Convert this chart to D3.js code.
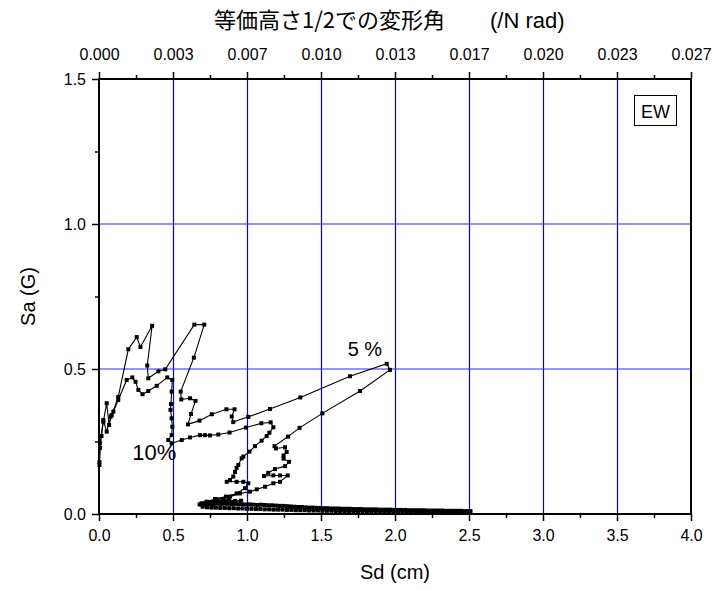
<!DOCTYPE html>
<html><head><meta charset="utf-8">
<script src="https://cdn.jsdelivr.net/npm/d3@7"></script>
<style>
body{margin:0;background:#fff;}
text{font-family:"Liberation Sans",Arial,"Noto Sans CJK JP",sans-serif;fill:#000;}
</style></head>
<body><svg id="c" width="716" height="590"></svg>
<script>
// ---- data: [Sd (cm), Sa (G)] ----
const curve5 = [
 [0.003,0.179],[0.007,0.228],[0.017,0.269],[0.029,0.318],[0.052,0.382],[0.068,0.307],[0.086,0.341],[0.130,0.404],
 [0.198,0.568],[0.255,0.610],[0.280,0.576],[0.359,0.649],[0.326,0.512],[0.333,0.468],[0.401,0.492],[0.448,0.499],
 [0.644,0.653],[0.711,0.653],[0.641,0.539],[0.552,0.422],[0.556,0.395],[0.615,0.399],[0.652,0.390],[0.622,0.345],
 [0.601,0.309],[0.679,0.322],[0.762,0.344],[0.861,0.361],[0.916,0.361],[0.897,0.336],[0.907,0.317],[1.009,0.335],
 [1.155,0.362],[1.360,0.402],[1.696,0.475],[1.944,0.518],[1.966,0.497],[1.764,0.424],[1.509,0.347],[1.355,0.297],
 [1.277,0.267],[1.186,0.234],[1.196,0.226],[1.257,0.230],[1.268,0.214],[1.247,0.202],[1.247,0.191],[1.284,0.180],
 [1.257,0.165],[1.189,0.155],[1.144,0.142],[1.115,0.131],[1.178,0.133],[1.223,0.133],[1.275,0.133],[1.223,0.111],
 [1.178,0.106],[1.122,0.094],[1.066,0.085],[1.020,0.077],[0.953,0.071],[0.885,0.060],[0.795,0.051],[0.728,0.042],
 [0.694,0.037],[0.740,0.041],[0.790,0.045],[0.840,0.048],[0.880,0.049],[0.820,0.044],[0.760,0.040],[0.710,0.036],
 [0.680,0.033],[0.720,0.037],[0.745,0.036],[0.770,0.037],[0.795,0.036],[0.820,0.035],[0.845,0.036],[0.870,0.035],
 [0.895,0.034],[0.920,0.035],[0.945,0.034],[0.970,0.033],[0.995,0.033],[1.020,0.033],[1.045,0.032],[1.070,0.031],
 [1.095,0.032],[1.120,0.031],[1.145,0.030],[1.170,0.030],[1.195,0.029],[1.220,0.028],[1.245,0.028],[1.270,0.027],
 [1.295,0.026],[1.320,0.025],[1.345,0.024],[1.370,0.024],[1.395,0.023],[1.420,0.022],[1.445,0.022],[1.470,0.021],
 [1.495,0.021],[1.520,0.020],[1.545,0.020],[1.570,0.019],[1.595,0.019],[1.620,0.019],[1.645,0.018],[1.670,0.018],
 [1.695,0.018],[1.720,0.017],[1.745,0.017],[1.770,0.017],[1.795,0.016],[1.820,0.016],[1.845,0.016],[1.870,0.016],
 [1.895,0.015],[1.920,0.015],[1.945,0.015],[1.970,0.015],[1.995,0.014],[2.020,0.014],[2.045,0.014],[2.070,0.014],
 [2.095,0.013],[2.120,0.013],[2.145,0.013],[2.170,0.013],[2.195,0.013],[2.220,0.012],[2.245,0.012],[2.270,0.012],
 [2.295,0.012],[2.320,0.012],[2.345,0.011],[2.370,0.011],[2.395,0.011],[2.420,0.011],[2.445,0.011],[2.470,0.010],
 [2.495,0.010],[2.510,0.010]];
const curve10 = [
 [0.003,0.169],[0.007,0.244],[0.029,0.324],[0.052,0.284],[0.079,0.336],[0.097,0.353],[0.130,0.393],[0.187,0.462],
 [0.225,0.471],[0.247,0.456],[0.266,0.428],[0.294,0.413],[0.333,0.424],[0.390,0.442],[0.461,0.471],[0.495,0.462],
 [0.491,0.422],[0.486,0.379],[0.483,0.359],[0.491,0.330],[0.495,0.301],[0.491,0.272],[0.468,0.255],[0.491,0.244],
 [0.559,0.255],[0.615,0.264],[0.682,0.272],[0.716,0.272],[0.750,0.271],[0.806,0.274],[0.882,0.281],[0.993,0.298],
 [1.097,0.313],[1.160,0.316],[1.178,0.299],[1.151,0.280],[1.133,0.269],[1.099,0.253],[1.054,0.234],[1.016,0.215],
 [0.975,0.198],[0.964,0.192],[0.941,0.169],[0.930,0.159],[0.919,0.145],[0.907,0.129],[0.885,0.117],[0.863,0.111],
 [0.930,0.111],[0.975,0.111],[1.009,0.106],[0.986,0.089],[0.930,0.071],[0.858,0.060],[0.784,0.052],[0.728,0.042],
 [0.689,0.033],[0.740,0.036],[0.800,0.040],[0.860,0.043],[0.920,0.045],[0.960,0.046],[0.900,0.041],[0.830,0.036],
 [0.770,0.031],[0.720,0.027],[0.700,0.025],[0.730,0.023],[0.760,0.022],[0.790,0.022],[0.820,0.021],[0.850,0.021],
 [0.880,0.020],[0.910,0.020],[0.940,0.019],[0.970,0.019],[1.000,0.018],[1.030,0.018],[1.060,0.017],[1.090,0.017],
 [1.120,0.016],[1.150,0.016],[1.180,0.015],[1.210,0.015],[1.240,0.015],[1.270,0.014],[1.300,0.014],[1.330,0.013],
 [1.360,0.013],[1.390,0.013],[1.420,0.012],[1.450,0.012],[1.480,0.012],[1.510,0.011],[1.540,0.011],[1.570,0.011],
 [1.600,0.010],[1.630,0.010],[1.660,0.010],[1.690,0.010],[1.720,0.009],[1.750,0.009],[1.780,0.009],[1.810,0.009],
 [1.840,0.008],[1.870,0.008],[1.900,0.008],[1.930,0.008],[1.960,0.008],[1.990,0.007],[2.020,0.007],[2.050,0.007],
 [2.080,0.007],[2.110,0.007],[2.140,0.006],[2.170,0.006],[2.200,0.006],[2.230,0.006],[2.260,0.006],[2.290,0.006],
 [2.320,0.005],[2.350,0.005],[2.380,0.005],[2.410,0.005],[2.440,0.005],[2.470,0.005],[2.500,0.005]];
const sdTicks = [0,0.5,1,1.5,2,2.5,3,3.5,4];
const saTicks = [0,0.5,1,1.5];
const angleTicks = ["0.000","0.003","0.007","0.010","0.013","0.017","0.020","0.023","0.027"];
const H = 150; // equivalent height, cm
const xTitle = "Sd (cm)", yTitle = "Sa (G)";
const topTitleJa = "等価高さ1/2での変形角", topTitleUnit = "(/N rad)";
const lab5 = "5 %", lab10 = "10%", boxLabel = "EW";

const svg = d3.select("#c");
const L=99,R=691,T=79,B=514;
const x = d3.scaleLinear().domain([0,4]).range([L,R]);
const y = d3.scaleLinear().domain([0,1.5]).range([B,T]);
const xt = d3.scaleLinear().domain([0,4/H]).range([L,R]);

// grid
const g = svg.append("g");
g.selectAll("line.v").data(sdTicks.slice(1,-1)).join("line").attr("class","v")
  .attr("x1",d=>Math.round(x(d))+0.5).attr("x2",d=>Math.round(x(d))+0.5).attr("y1",T).attr("y2",B)
  .attr("stroke","#0000ff").attr("stroke-width",1.2);
g.selectAll("line.h").data(saTicks.slice(1,-1)).join("line").attr("class","h")
  .attr("y1",d=>Math.round(y(d))).attr("y2",d=>Math.round(y(d))).attr("x1",L).attr("x2",R)
  .attr("stroke","#2a2aff").attr("stroke-width",1.2);

function styleAxis(sel){
  sel.select(".domain").remove();
  sel.selectAll(".tick line").attr("stroke","#000").attr("stroke-width",1.5);
  sel.selectAll(".tick text").attr("font-size",16).attr("font-family",'"Liberation Sans",Arial,sans-serif');
}
// minor ticks
const minorX = [0.25,0.75,1.25,1.75,2.25,2.75,3.25,3.75];
const minorY = [0.25,0.75,1.25];
svg.append("g").attr("transform",`translate(0,${B})`)
  .call(d3.axisBottom(x).tickValues(minorX).tickSize(4).tickFormat(""))
  .call(styleAxis);
svg.append("g").attr("transform",`translate(0,${B})`)
  .call(d3.axisBottom(x).tickValues(sdTicks).tickSize(7).tickPadding(9).tickFormat(d3.format(".1f")))
  .call(styleAxis);
svg.append("g").attr("transform",`translate(${L},0)`)
  .call(d3.axisLeft(y).tickValues(minorY).tickSize(4).tickFormat(""))
  .call(styleAxis);
svg.append("g").attr("transform",`translate(${L},0)`)
  .call(d3.axisLeft(y).tickValues(saTicks).tickSize(7).tickPadding(6).tickFormat(d3.format(".1f")))
  .call(styleAxis);
svg.append("g").attr("transform",`translate(0,${T})`)
  .call(d3.axisTop(xt).tickValues(minorX.map(d=>d/H)).tickSize(4).tickFormat(""))
  .call(styleAxis);
svg.append("g").attr("transform",`translate(0,${T})`)
  .call(d3.axisTop(xt).tickValues(sdTicks.map(d=>d/H)).tickSize(7).tickPadding(12).tickFormat((d,i)=>angleTicks[i]))
  .call(styleAxis);

// frame
svg.append("rect").attr("x",L).attr("y",T).attr("width",R-L).attr("height",B-T)
  .attr("fill","none").attr("stroke","#000").attr("stroke-width",2);

// curves
function drawCurve(pts){
  svg.append("path").datum(pts)
    .attr("d",d3.line().x(d=>x(d[0])).y(d=>y(d[1])))
    .attr("fill","none").attr("stroke","#000").attr("stroke-width",1.1);
  svg.append("g").selectAll("rect").data(pts).join("rect")
    .attr("x",d=>x(d[0])-2).attr("y",d=>y(d[1])-2).attr("width",4).attr("height",4).attr("fill","#000");
}
drawCurve(curve10);
drawCurve(curve5);

// labels
svg.append("text").attr("x",x(1.68)).attr("y",y(0.545)).attr("font-size",20).text(lab5);
svg.append("text").attr("x",x(0.225)).attr("y",y(0.185)).attr("font-size",22).text(lab10);
svg.append("rect").attr("x",634.5).attr("y",95.5).attr("width",42).attr("height",30)
  .attr("fill","#fff").attr("stroke","#000").attr("stroke-width",1);
svg.append("text").attr("x",655.5).attr("y",117.5).attr("text-anchor","middle").attr("font-size",18).text(boxLabel);

// titles
svg.append("text").attr("x",(L+R)/2).attr("y",579).attr("text-anchor","middle").attr("font-size",20).text(xTitle);
svg.append("text").attr("transform",`translate(35,${(T+B)/2}) rotate(-90)`).attr("text-anchor","middle").attr("font-size",20).text(yTitle);
const tt = svg.append("text").attr("y",28);
tt.append("tspan").attr("x",214).attr("font-size",22).attr("font-family",'"Noto Sans CJK JP",sans-serif').text(topTitleJa);
tt.append("tspan").attr("x",490).attr("font-size",22).attr("font-family",'"Liberation Sans",Arial,sans-serif').text(topTitleUnit);
</script></body></html>
